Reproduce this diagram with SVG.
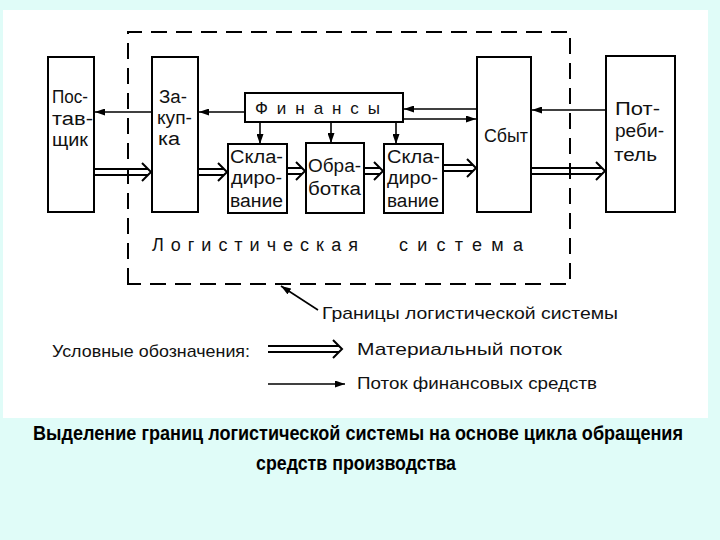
<svg xmlns="http://www.w3.org/2000/svg" width="720" height="540" viewBox="0 0 720 540">
<defs>
<style>
.box{fill:#fff;stroke:#000;stroke-width:2}
.t{font-family:"Liberation Sans","DejaVu Sans",sans-serif;font-size:18px;fill:#111}
.s{font-family:"Liberation Sans","DejaVu Sans",sans-serif;font-size:17px;fill:#111}
.fin{fill:none;stroke:#000;stroke-width:1.6;marker-end:url(#ah)}
.mat{fill:none;stroke:#000;stroke-width:2;stroke-linejoin:miter}
.cap{font-family:"Liberation Sans Narrow","Liberation Sans",Arial,sans-serif;font-size:20px;font-weight:bold;fill:#000}
</style>
<marker id="ah" viewBox="0 0 10 7" refX="10" refY="3.5" markerWidth="10" markerHeight="7" markerUnits="userSpaceOnUse" orient="auto">
<path d="M0,0 L10,3.5 L0,7 z" fill="#000"/>
</marker>
</defs>
<rect x="0" y="0" width="720" height="540" fill="#E0FCF8"/>
<rect x="3" y="10" width="705" height="408" fill="#fff"/>

<g id="boundary">
<path d="M128 284 V32 H570 V284 Z" fill="none" stroke="#000" stroke-width="2" stroke-dasharray="16 9"/>
<text class="t" x="152" y="251" textLength="206" font-size="18">Логистическая</text>
<text class="t" x="399" y="251" textLength="124" font-size="18">система</text>
</g>

<g id="supplier">
<rect class="box" x="48" y="57" width="46" height="155"/>
<text class="t" x="52" y="103" textLength="36" lengthAdjust="spacingAndGlyphs">Пос-</text>
<text class="t" x="52" y="125" textLength="41" lengthAdjust="spacingAndGlyphs">тав-</text>
<text class="t" x="52" y="146" textLength="36" lengthAdjust="spacingAndGlyphs">щик</text>
</g>
<g id="purchase">
<rect class="box" x="152" y="57" width="46" height="155"/>
<text class="t" x="159" y="103" textLength="28" lengthAdjust="spacingAndGlyphs">За-</text>
<text class="t" x="157" y="124" textLength="35" lengthAdjust="spacingAndGlyphs">куп-</text>
<text class="t" x="158" y="145" textLength="22" lengthAdjust="spacingAndGlyphs">ка</text>
</g>
<g id="finance">
<rect class="box" x="245" y="93" width="158" height="29"/>
<text class="s" x="255" y="114" textLength="125" font-size="18">Финансы</text>
</g>
<g id="storage1">
<rect class="box" x="228" y="144" width="59" height="69"/>
<text class="t" x="230" y="163" textLength="53" lengthAdjust="spacingAndGlyphs">Скла-</text>
<text class="t" x="231" y="184" textLength="51" lengthAdjust="spacingAndGlyphs">диро-</text>
<text class="t" x="230" y="207" textLength="53" lengthAdjust="spacingAndGlyphs">вание</text>
</g>
<g id="processing">
<rect class="box" x="306" y="143" width="58" height="70"/>
<text class="t" x="308" y="172" textLength="53" lengthAdjust="spacingAndGlyphs">Обра-</text>
<text class="t" x="308" y="195" textLength="53" lengthAdjust="spacingAndGlyphs">ботка</text>
</g>
<g id="storage2">
<rect class="box" x="384" y="144" width="59" height="69"/>
<text class="t" x="387" y="163" textLength="53" lengthAdjust="spacingAndGlyphs">Скла-</text>
<text class="t" x="387" y="184" textLength="51" lengthAdjust="spacingAndGlyphs">диро-</text>
<text class="t" x="387" y="207" textLength="52" lengthAdjust="spacingAndGlyphs">вание</text>
</g>
<g id="sales">
<rect class="box" x="477" y="57" width="54" height="155"/>
<text class="t" x="484" y="142" textLength="44" lengthAdjust="spacingAndGlyphs">Сбыт</text>
</g>
<g id="consumer">
<rect class="box" x="606" y="56" width="69" height="156"/>
<text class="t" x="615" y="115" textLength="45" lengthAdjust="spacingAndGlyphs">Пот-</text>
<text class="t" x="615" y="137" textLength="49" lengthAdjust="spacingAndGlyphs">реби-</text>
<text class="t" x="614" y="161" textLength="43" lengthAdjust="spacingAndGlyphs">тель</text>
</g>

<g id="connectors">
<path class="fin" d="M152 112 H95"/>
<path class="fin" d="M245 112 H199"/>
<path class="fin" d="M260 122 V144"/>
<path class="fin" d="M331 122 V143"/>
<path class="fin" d="M396 122 V144"/>
<path class="fin" d="M477 109 H404"/>
<path class="fin" d="M403 119 H476"/>
<path class="fin" d="M606 110 H532"/>
<path class="mat" d="M94 169 H148 M94 175 H148 M142 163 L151 172 L142 181"/>
<path class="mat" d="M198 169 H224 M198 175 H224 M218 163 L227 172 L218 181"/>
<path class="mat" d="M287 168 H302 M287 174 H302 M296 162 L305 171 L296 180"/>
<path class="mat" d="M364 168 H380 M364 174 H380 M374 162 L383 171 L374 180"/>
<path class="mat" d="M443 165 H473 M443 171 H473 M467 159 L476 168 L467 177"/>
<path class="mat" d="M531 168 H602 M531 174 H602 M596 162 L605 171 L596 180"/>
<path class="fin" d="M318 310 L281 286"/>
</g>

<g id="labels">
<text class="s" x="322" y="319" textLength="296" lengthAdjust="spacingAndGlyphs">Границы логистической системы</text>
<text class="s" x="52" y="357" textLength="198" lengthAdjust="spacingAndGlyphs">Условные обозначения:</text>
</g>
<g id="legend">
<path class="mat" d="M268 346 H339 M268 352 H339 M333 340 L342 349 L333 358"/>
<text class="s" x="357" y="355" textLength="205" lengthAdjust="spacingAndGlyphs">Материальный поток</text>
<path class="fin" d="M268 384 H345"/>
<text class="s" x="357" y="389" textLength="240" lengthAdjust="spacingAndGlyphs">Поток финансовых средств</text>
</g>

<g id="caption">
<text class="cap" x="33" y="440" textLength="650" lengthAdjust="spacingAndGlyphs">Выделение границ логистической системы на основе цикла обращения</text>
<text class="cap" x="256" y="470" textLength="200" lengthAdjust="spacingAndGlyphs">средств производства</text>
</g>
</svg>
